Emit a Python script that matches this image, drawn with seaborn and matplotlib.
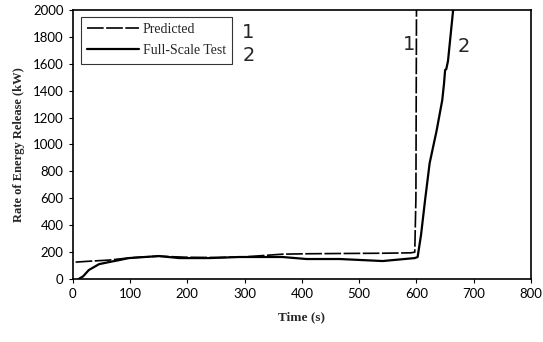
import pandas as pd
import numpy as np
import matplotlib.pyplot as plt
import seaborn as sns

# data
pred_time = [5, 30, 63, 100, 150, 200, 250, 300, 366, 408, 466, 541, 590, 597, 599, 600]
pred_hrr = [126, 133, 141, 158, 170, 162, 160, 165, 185, 188, 190, 192, 195, 200, 600, 2000]

test_time = [10, 18, 28, 46, 63, 80, 98, 150, 186, 238, 291, 308, 366, 408, 466, 541, 597, 602,
             608, 615, 623, 635, 645, 648, 650, 652, 655, 664]
test_hrr = [0, 20, 67, 111, 126, 140, 156, 171, 156, 156, 164, 164, 164, 149, 149, 134, 156, 164,
            330, 587, 862, 1100, 1330, 1450, 1554, 1560, 1620, 2000]

pred = pd.DataFrame({'Time': pred_time, 'HRR': pred_hrr})
test = pd.DataFrame({'Time': test_time, 'HRR': test_hrr})

sns.set_style("ticks")
fig = plt.figure(figsize=(5.43, 3.42), dpi=100)
ax = fig.add_axes([0.134, 0.184, 0.844, 0.787])

sns.lineplot(x='Time', y='HRR', data=pred, ax=ax, color='black', lw=1.2,
             linestyle=(0, (10, 1.5)), label='Predicted', sort=False)
sns.lineplot(x='Time', y='HRR', data=test, ax=ax, color='black', lw=1.6,
             label='Full-Scale Test', sort=False)

ax.set_xlim(0, 800)
ax.set_ylim(0, 2000)
ax.set_xticks(np.arange(0, 801, 100))
ax.set_yticks(np.arange(0, 2001, 200))
ax.tick_params(labelsize=9.5, length=3, width=0.8, colors='black')
for lab in ax.get_xticklabels() + ax.get_yticklabels():
    lab.set_family('Lato')
for s in ax.spines.values():
    s.set_linewidth(1.2)
    s.set_color('black')

ax.set_xlabel('Time (s)', fontsize=9.5, fontweight='bold', family='Liberation Serif', labelpad=8)
ax.set_ylabel('Rate of Energy Release (kW)', fontsize=9, fontweight='bold', family='Liberation Serif', labelpad=6)

leg = ax.legend(loc='upper left', bbox_to_anchor=(0.012, 0.985), frameon=True, fancybox=False,
                prop={'family': 'Liberation Serif', 'size': 10}, handlelength=3.7,
                borderpad=0.45, labelspacing=0.6, handletextpad=0.3, borderaxespad=0.2)
leg.get_frame().set_edgecolor('black')
leg.get_frame().set_linewidth(0.8)

# curve numbers
ax.text(0.37, 0.915, '1', transform=ax.transAxes, fontsize=14, family='DejaVu Sans', va='center')
ax.text(0.37, 0.83, '2', transform=ax.transAxes, fontsize=14, family='DejaVu Sans', va='center')
ax.text(577, 1740, '1', fontsize=14, family='DejaVu Sans', va='center')
ax.text(672, 1730, '2', fontsize=14, family='DejaVu Sans', va='center')

plt.savefig('out.png', dpi=100)
